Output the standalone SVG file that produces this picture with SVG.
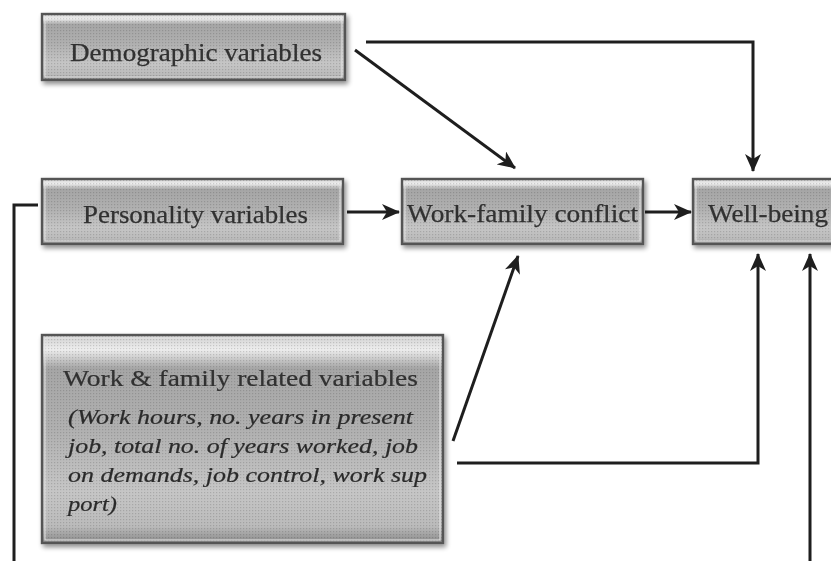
<svg xmlns="http://www.w3.org/2000/svg" width="831" height="561" viewBox="0 0 831 561">
<style>
.box{fill:url(#boxg);stroke:#555555;stroke-width:2.4}
.inner{fill:none;stroke:#e6e6e6;stroke-width:1}
.tex{fill:url(#dots)}
.lbl{font-family:"Liberation Serif","Times New Roman",serif;font-size:26px;fill:#303030;stroke:#303030;stroke-width:0.25}
.ttl{font-family:"Liberation Serif","Times New Roman",serif;font-size:23px;fill:#303030;stroke:#303030;stroke-width:0.2}
.it{font-family:"Liberation Serif","Times New Roman",serif;font-size:20px;font-style:italic;fill:#2a2a2a;stroke:#2a2a2a;stroke-width:0.2}
.con{fill:none;stroke:#1e1e1e;stroke-width:3}
</style>
<defs>
<linearGradient id="boxg" x1="0" y1="0" x2="0" y2="1">
<stop offset="0" stop-color="#d0d0d0"/>
<stop offset="0.07" stop-color="#eeeeee"/>
<stop offset="0.16" stop-color="#a6a6a6"/>
<stop offset="0.45" stop-color="#b0b0b0"/>
<stop offset="0.75" stop-color="#c6c6c6"/>
<stop offset="0.92" stop-color="#bbbbbb"/>
<stop offset="1" stop-color="#8a8a8a"/>
</linearGradient>
<pattern id="dots" width="3" height="3" patternUnits="userSpaceOnUse">
<rect x="0" y="0" width="1.2" height="1.2" fill="#000" fill-opacity="0.14"/>
</pattern>
<filter id="sh" x="-5%" y="-10%" width="115%" height="130%">
<feGaussianBlur in="SourceAlpha" stdDeviation="2.5"/>
<feOffset dx="2" dy="3" result="b"/>
<feComponentTransfer><feFuncA type="linear" slope="0.45"/></feComponentTransfer>
<feMerge><feMergeNode/><feMergeNode in="SourceGraphic"/></feMerge>
</filter>
<marker id="ah" viewBox="0 0 18 16" refX="17" refY="8" markerWidth="18" markerHeight="16" markerUnits="userSpaceOnUse" orient="auto">
<path d="M0,0 L18,8 L0,16 L5,8 z" fill="#1e1e1e"/>
</marker>
</defs>
<rect width="831" height="561" fill="#ffffff"/>

<g id="connectors">
<path class="con" d="M366,42 H753 V171" marker-end="url(#ah)"/>
<path class="con" d="M355,50 L515,168" marker-end="url(#ah)"/>
<path class="con" d="M347,212 H399" marker-end="url(#ah)"/>
<path class="con" d="M645,212 H691" marker-end="url(#ah)"/>
<path class="con" d="M453,441 L518,256" marker-end="url(#ah)"/>
<path class="con" d="M457,463 H758 V254" marker-end="url(#ah)"/>
<path class="con" d="M38,205 H14 V575 H810 V254" marker-end="url(#ah)"/>
</g>

<g id="demographic" filter="url(#sh)">
<rect class="box" x="42" y="14" width="303" height="66"/>
<rect class="tex" x="43" y="15" width="301" height="64"/>
<rect class="inner" x="45" y="17" width="297" height="60"/>
<text class="lbl" x="70" y="61" textLength="252" lengthAdjust="spacingAndGlyphs">Demographic variables</text>
</g>

<g id="personality" filter="url(#sh)">
<rect class="box" x="42" y="179" width="301" height="65"/>
<rect class="tex" x="43" y="180" width="299" height="63"/>
<rect class="inner" x="45" y="182" width="295" height="59"/>
<text class="lbl" x="83" y="223" textLength="225" lengthAdjust="spacingAndGlyphs">Personality variables</text>
</g>

<g id="workfamilyconflict" filter="url(#sh)">
<rect class="box" x="402" y="179" width="241" height="65"/>
<rect class="tex" x="403" y="180" width="239" height="63"/>
<rect class="inner" x="405" y="182" width="235" height="59"/>
<text class="lbl" x="407" y="222" textLength="231" lengthAdjust="spacingAndGlyphs">Work-family conflict</text>
</g>

<g id="wellbeing" filter="url(#sh)">
<rect class="box" x="693" y="179" width="160" height="65"/>
<rect class="tex" x="694" y="180" width="158" height="63"/>
<rect class="inner" x="696" y="182" width="154" height="59"/>
<text class="lbl" x="708" y="222" textLength="120" lengthAdjust="spacingAndGlyphs">Well-being</text>
</g>

<g id="workfamilyvariables" filter="url(#sh)">
<rect class="box" x="42" y="335" width="401" height="208"/>
<rect class="tex" x="43" y="336" width="399" height="206"/>
<rect class="inner" x="45" y="338" width="395" height="202"/>
<text class="ttl" x="63" y="386" textLength="355" lengthAdjust="spacingAndGlyphs">Work &amp; family related variables</text>
<text class="it" x="68" y="424" textLength="345" lengthAdjust="spacingAndGlyphs">(Work hours, no. years in present</text>
<text class="it" x="68" y="453" textLength="350" lengthAdjust="spacingAndGlyphs">job, total no. of years worked, job</text>
<text class="it" x="68" y="482" textLength="359" lengthAdjust="spacingAndGlyphs">on demands, job control, work sup</text>
<text class="it" x="68" y="511" textLength="49" lengthAdjust="spacingAndGlyphs">port)</text>
</g>
</svg>
